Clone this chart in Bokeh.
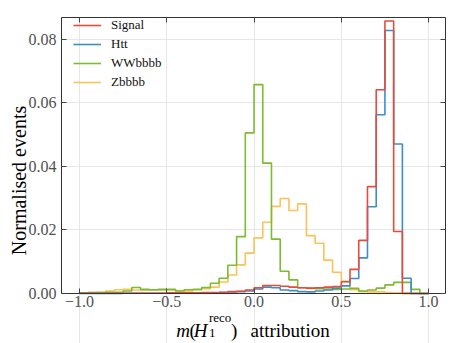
from bokeh.plotting import figure
from bokeh.models import (Range1d, FixedTicker, LinearAxis, Legend, LegendItem,
                          CustomJSTickFormatter)
from bokeh.core.properties import value
from bokeh.embed import file_html
from bokeh.resources import INLINE

# ---- data (normalised event fractions per bin, bins of width 0.05 from -1.0 to 1.0) ----
bin_edges = [round(-1.0 + 0.05 * i, 2) for i in range(41)]

signal = [0.0001, 0.0001, 0.0001, 0.0001, 0.0001, 0.0001, 0.0001, 0.0001, 0.0001, 0.0001,
          0.0002, 0.0002, 0.0002, 0.0002, 0.0003, 0.0003, 0.0004, 0.0005, 0.0007, 0.0011,
          0.0018, 0.0025, 0.0025, 0.0023, 0.0020, 0.0018, 0.0017, 0.0018, 0.0020, 0.0022,
          0.0037, 0.0076, 0.0167, 0.0336, 0.0641, 0.0857, 0.0195, 0.0, 0.0, 0.0]

htt = [0.0, 0.0, 0.0, 0.0, 0.0, 0.0001, 0.0001, 0.0001, 0.0001, 0.0001,
       0.0001, 0.0001, 0.0001, 0.0001, 0.0002, 0.0002, 0.0003, 0.0006, 0.0006, 0.0008,
       0.0014, 0.0020, 0.0018, 0.0011, 0.0009, 0.0006, 0.0005, 0.0008, 0.0011, 0.0017,
       0.0024, 0.0047, 0.0112, 0.0273, 0.0562, 0.0827, 0.0470, 0.0048, 0.0, 0.0]

wwbbbb = [0.0002, 0.0003, 0.0003, 0.0004, 0.0004, 0.0008, 0.0019, 0.0013, 0.0012, 0.0013,
          0.0013, 0.0008, 0.0012, 0.0013, 0.0019, 0.0032, 0.0048, 0.0089, 0.0179, 0.0505,
          0.0657, 0.0410, 0.0171, 0.0070, 0.0043, 0.0018, 0.0016, 0.0015, 0.0014, 0.0013,
          0.0014, 0.0016, 0.0008, 0.0011, 0.0017, 0.0027, 0.0035, 0.0035, 0.0013, 0.0]

zbbbb = [0.0002, 0.0003, 0.0004, 0.0008, 0.0012, 0.0013, 0.0011, 0.0010, 0.0010, 0.0011,
         0.0011, 0.0009, 0.0008, 0.0012, 0.0015, 0.0020, 0.0036, 0.0058, 0.0090, 0.0127,
         0.0175, 0.0224, 0.0274, 0.0299, 0.0261, 0.0282, 0.0182, 0.0158, 0.0105, 0.0067,
         0.0038, 0.0012, 0.0006, 0.0005, 0.0005, 0.0003, 0.0002, 0.0002, 0.0001, 0.0]

series_names = ["Signal", "Htt", "WWbbbb", "Zbbbb"]
series_values = [signal, htt, wwbbbb, zbbbb]
series_colors = ["#e84a3b", "#3b8fc9", "#7dbb31", "#fcc25a"]

x_ticks = [-1.0, -0.5, 0.0, 0.5, 1.0]
y_ticks = [0.0, 0.02, 0.04, 0.06, 0.08]
x_lo, x_hi = -1.103, 1.097
y_top = 0.0868

y_label = "Normalised events"
x_label_parts = ["m", "(", "H", "1", "reco", ")", "attribution"]

SERIF = "Liberation Serif"
AX = "#333333"


def step_path(edges, h):
    xs = [edges[0]]
    ys = [0.0]
    for i, v in enumerate(h):
        xs += [edges[i], edges[i + 1]]
        ys += [v, v]
    xs.append(edges[-1])
    ys.append(0.0)
    return xs, ys


# layout in page pixels: frame spans x 61..445, y 17..343; y = 0 sits at pixel row 293
W, H = 452, 343
FL, FR, FT, Y0 = 61, 445, 17, 293
px_per_y = (Y0 - FT) / y_top
y_lo = -(H - Y0) / px_per_y


def to_data(px, py):
    return (x_lo + (px - FL) * (x_hi - x_lo) / (FR - FL), (Y0 - py) / px_per_y)


p = figure(width=W, height=H, x_range=Range1d(x_lo, x_hi), y_range=Range1d(y_lo, y_top),
           output_backend="svg", toolbar_location=None,
           min_border_left=FL, min_border_right=W - FR, min_border_top=FT, min_border_bottom=0)

p.background_fill_color = "white"
p.border_fill_color = "white"
p.outline_line_color = None

p.xgrid.ticker = FixedTicker(ticks=x_ticks)
p.xgrid.bounds = (0, y_top)
p.ygrid.ticker = FixedTicker(ticks=y_ticks)
for g in (p.xgrid, p.ygrid):
    g.grid_line_color = "#e6e6e6"
    g.grid_line_width = 1

# bottom axis sits on y = 0 inside the frame
p.xaxis.fixed_location = 0
p.xaxis.ticker = FixedTicker(ticks=x_ticks)
p.xaxis.formatter = CustomJSTickFormatter(code="return tick.toFixed(1).replace('-', '\u2212');")
p.yaxis.ticker = FixedTicker(ticks=y_ticks)
p.yaxis.formatter = CustomJSTickFormatter(code="return tick.toFixed(2);")
p.yaxis.bounds = (0, y_top)

for ax in (p.xaxis[0], p.yaxis[0]):
    ax.axis_line_color = AX
    ax.major_tick_line_color = "#444444"
    ax.major_tick_in = 5
    ax.major_tick_out = 0
    ax.minor_tick_line_color = None
    ax.major_label_text_font = SERIF
    ax.major_label_text_font_size = "16px"
    ax.major_label_text_color = "#505050"
p.xaxis.major_label_standoff = 2
p.yaxis.major_label_standoff = 5

p.yaxis.axis_label = y_label
p.yaxis.axis_label_text_font = SERIF
p.yaxis.axis_label_text_font_size = "20px"
p.yaxis.axis_label_text_font_style = "normal"
p.yaxis.axis_label_text_color = "black"
p.yaxis.axis_label_standoff = -4

blank = CustomJSTickFormatter(code="return '';")
top_ax = LinearAxis(ticker=FixedTicker(ticks=x_ticks), formatter=blank, axis_line_color=AX,
                    major_tick_in=5, major_tick_out=0, minor_tick_line_color=None,
                    major_tick_line_color="#444444", major_label_text_font_size="1px",
                    major_label_standoff=0)
right_ax = LinearAxis(ticker=FixedTicker(ticks=y_ticks), formatter=blank, axis_line_color=AX,
                      bounds=(0, y_top),
                      major_tick_in=5, major_tick_out=0, minor_tick_line_color=None,
                      major_tick_line_color="#444444", major_label_text_font_size="1px",
                      major_label_standoff=0)
p.add_layout(top_ax, "above")
p.add_layout(right_ax, "right")

renderers = {}
for name, vals, col in reversed(list(zip(series_names, series_values, series_colors))):
    xs, ys = step_path(bin_edges, vals)
    renderers[name] = p.line(xs, ys, line_color=col, line_width=1.6)

frame_h = H - FT
legend = Legend(items=[LegendItem(label=n, renderers=[renderers[n]]) for n in series_names],
                location=(12, frame_h - 73))
legend.margin = 0
legend.padding = 0
legend.spacing = 3
legend.label_height = 16
legend.glyph_height = 16
legend.glyph_width = 28
legend.label_standoff = 10
legend.label_text_font = SERIF
legend.label_text_font_size = "13px"
legend.label_text_color = "#111111"
legend.border_line_color = None
legend.background_fill_alpha = 0
p.add_layout(legend, "center")

# ---- x-axis title built from pieces (italic m, H; subscript 1, superscript reco) ----
big = value("19px")
small = value("13px")
font = value(SERIF)
base_py = 330


def put(parts, pxs, pys, size, style):
    xs, ys = [], []
    for a, b in zip(pxs, pys):
        dx, dy = to_data(a, b)
        xs.append(dx)
        ys.append(dy)
    p.text(x=xs, y=ys, text=parts, text_font=font, text_font_size=size,
           text_font_style=style, text_baseline="alphabetic", text_align="left",
           text_color="black")


put([x_label_parts[0], x_label_parts[2]], [175.7, 193.3], [base_py, base_py], big, "italic")
put([x_label_parts[1], x_label_parts[5], x_label_parts[6]], [189.0, 230.5, 250.0],
    [base_py, base_py, base_py], big, "normal")
put([x_label_parts[3], x_label_parts[4]], [208.5, 208.5], [base_py + 2, base_py - 13],
    small, "normal")

open("out.html", "w").write(file_html(p, INLINE))
